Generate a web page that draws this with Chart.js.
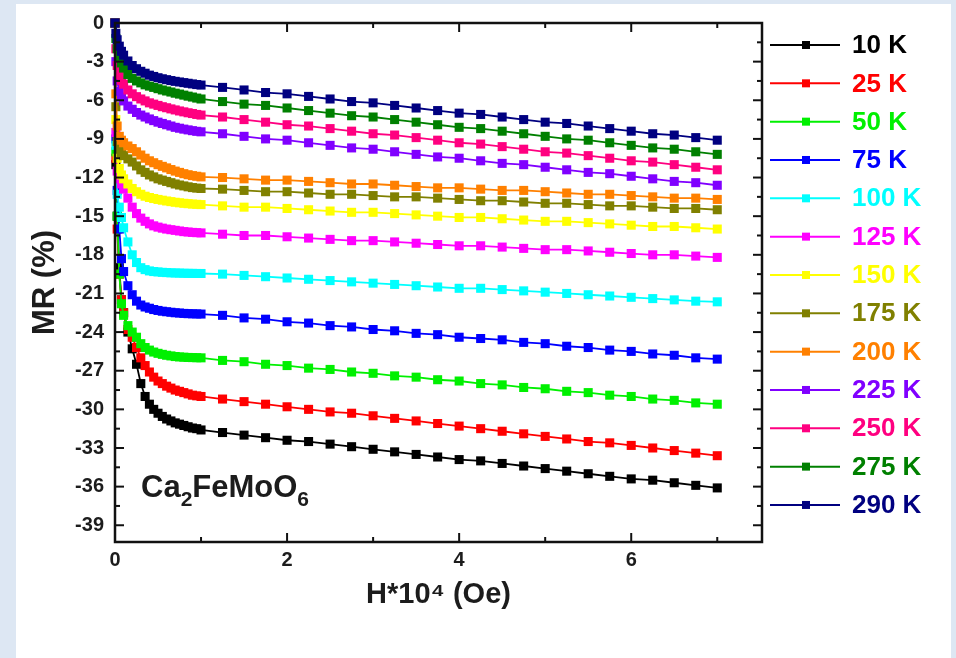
<!DOCTYPE html>
<html>
<head>
<meta charset="utf-8">
<script src="https://cdn.jsdelivr.net/npm/chart.js@4.4.1/dist/chart.umd.min.js"></script>
<style>
  html, body { margin: 0; padding: 0; background: #dde7f3; }
  #wrap { width: 956px; height: 658px; position: relative; }
  canvas { display: block; }
</style>
</head>
<body>
<div id="wrap"><canvas id="c" width="956" height="658"></canvas></div>
<script>
// Magnetic field H (x 10^4 Oe)
const fields = [0, 0.01, 0.025, 0.05, 0.075, 0.1, 0.15, 0.2, 0.25, 0.3, 0.35, 0.4, 0.45, 0.5, 0.55, 0.6, 0.65, 0.7, 0.75, 0.8, 0.85, 0.9, 0.95, 1.0,
  1.25, 1.5, 1.75, 2, 2.25, 2.5, 2.75, 3, 3.25, 3.5, 3.75, 4, 4.25, 4.5, 4.75, 5, 5.25, 5.5, 5.75, 6, 6.25, 6.5, 6.75, 7];

const seriesLabels = ['10 K', '25 K', '50 K', '75 K', '100 K', '125 K', '150 K', '175 K', '200 K', '225 K', '250 K', '275 K', '290 K'];
const seriesColors = ['#000000', '#ff0000', '#00f000', '#0000ff', '#00ffff', '#ff00ff', '#ffff00', '#808000', '#ff8000', '#8000ff', '#ff0080', '#008000', '#000080'];

const mr10 = [0, -11, -15.0, -19.0, -21.5, -22.5, -24.0, -25.3, -26.5, -28.0, -29.0, -29.6, -30.0, -30.3, -30.55, -30.75, -30.9, -31.05, -31.15, -31.25, -31.35, -31.45, -31.5, -31.6,
  -31.8, -32.0, -32.2, -32.4, -32.5, -32.7, -32.9, -33.1, -33.3, -33.5, -33.7, -33.9, -34.0, -34.2, -34.4, -34.6, -34.8, -35.0, -35.2, -35.4, -35.5, -35.7, -35.9, -36.1];
const mr25 = [0, -10.5, -16.0, -19.5, -21.5, -22.5, -23.8, -24.4, -25.2, -26.0, -26.6, -27.1, -27.5, -27.8, -28.0, -28.2, -28.35, -28.5, -28.6, -28.7, -28.8, -28.9, -28.95, -29.0,
  -29.2, -29.4, -29.6, -29.8, -30.0, -30.2, -30.3, -30.5, -30.7, -30.9, -31.1, -31.3, -31.5, -31.7, -31.9, -32.1, -32.3, -32.5, -32.6, -32.8, -33.0, -33.2, -33.4, -33.6];
const mr50 = [0, -10, -15, -19.5, -21.8, -22.7, -23.5, -24.0, -24.4, -24.9, -25.2, -25.4, -25.55, -25.65, -25.73, -25.8, -25.85, -25.9, -25.93, -25.95, -25.97, -25.98, -25.99, -26.0,
  -26.2, -26.3, -26.5, -26.6, -26.8, -26.9, -27.1, -27.2, -27.4, -27.5, -27.7, -27.8, -28.0, -28.1, -28.3, -28.4, -28.6, -28.7, -28.9, -29.0, -29.2, -29.3, -29.5, -29.6];
const mr75 = [0, -9.0, -13.0, -16.0, -18.3, -19.3, -20.4, -21.1, -21.6, -21.9, -22.05, -22.15, -22.25, -22.32, -22.38, -22.42, -22.46, -22.5, -22.52, -22.55, -22.57, -22.58, -22.59, -22.6,
  -22.7, -22.9, -23.0, -23.2, -23.3, -23.5, -23.6, -23.8, -23.9, -24.1, -24.2, -24.4, -24.5, -24.6, -24.8, -24.9, -25.1, -25.2, -25.4, -25.5, -25.7, -25.8, -26.0, -26.1];
const mr100 = [0, -9.5, -13.3, -14.3, -15.1, -15.9, -17.0, -18.0, -18.6, -19.0, -19.15, -19.25, -19.3, -19.33, -19.36, -19.38, -19.4, -19.41, -19.42, -19.43, -19.44, -19.44, -19.45, -19.45,
  -19.5, -19.6, -19.7, -19.8, -19.9, -20.0, -20.1, -20.2, -20.3, -20.4, -20.5, -20.6, -20.6, -20.7, -20.8, -20.9, -21.0, -21.1, -21.2, -21.3, -21.4, -21.5, -21.6, -21.65];
const mr125 = [0, -8.5, -11.5, -12.1, -12.5, -12.9, -13.6, -14.3, -14.8, -15.15, -15.4, -15.6, -15.75, -15.85, -15.93, -16.0, -16.05, -16.1, -16.15, -16.2, -16.23, -16.26, -16.28, -16.3,
  -16.4, -16.5, -16.5, -16.6, -16.7, -16.8, -16.9, -16.9, -17.0, -17.1, -17.2, -17.3, -17.3, -17.4, -17.5, -17.6, -17.6, -17.7, -17.8, -17.9, -18.0, -18.0, -18.1, -18.2];
const mr150 = [0, -7.5, -10.5, -11.3, -11.8, -12.1, -12.5, -12.85, -13.1, -13.3, -13.45, -13.55, -13.63, -13.7, -13.76, -13.82, -13.87, -13.92, -13.96, -14.0, -14.03, -14.06, -14.08, -14.1,
  -14.2, -14.3, -14.3, -14.4, -14.5, -14.6, -14.7, -14.7, -14.8, -14.9, -15.0, -15.1, -15.1, -15.2, -15.3, -15.4, -15.4, -15.5, -15.6, -15.7, -15.8, -15.8, -15.9, -16.0];
const mr175 = [0, -6.5, -9.2, -9.8, -10.1, -10.3, -10.55, -10.8, -11.1, -11.4, -11.6, -11.8, -11.95, -12.1, -12.2, -12.3, -12.4, -12.5, -12.58, -12.65, -12.72, -12.78, -12.82, -12.85,
  -12.9, -13.0, -13.1, -13.1, -13.2, -13.3, -13.3, -13.4, -13.5, -13.5, -13.6, -13.7, -13.8, -13.8, -13.9, -14.0, -14.0, -14.1, -14.2, -14.2, -14.3, -14.4, -14.4, -14.5];
const mr200 = [0, -5.5, -8.0, -8.8, -9.1, -9.3, -9.55, -9.75, -10.0, -10.25, -10.5, -10.7, -10.85, -11.0, -11.13, -11.25, -11.38, -11.5, -11.6, -11.7, -11.78, -11.85, -11.9, -11.95,
  -12.0, -12.1, -12.2, -12.2, -12.3, -12.4, -12.5, -12.5, -12.6, -12.7, -12.8, -12.8, -12.9, -13.0, -13.0, -13.1, -13.2, -13.3, -13.3, -13.4, -13.5, -13.6, -13.6, -13.7];
const mr225 = [0, -3.0, -4.5, -5.3, -5.75, -6.05, -6.45, -6.7, -6.95, -7.15, -7.3, -7.45, -7.58, -7.7, -7.8, -7.9, -8.0, -8.1, -8.17, -8.24, -8.3, -8.36, -8.41, -8.45,
  -8.6, -8.8, -9.0, -9.1, -9.3, -9.5, -9.7, -9.8, -10.0, -10.2, -10.4, -10.5, -10.7, -10.9, -11.0, -11.2, -11.4, -11.6, -11.7, -11.9, -12.1, -12.3, -12.4, -12.6];
const mr250 = [0, -2.0, -3.3, -4.0, -4.45, -4.75, -5.2, -5.5, -5.72, -5.9, -6.05, -6.2, -6.3, -6.4, -6.5, -6.58, -6.67, -6.75, -6.83, -6.9, -6.97, -7.03, -7.1, -7.15,
  -7.3, -7.5, -7.7, -7.9, -8.0, -8.2, -8.4, -8.6, -8.7, -8.9, -9.1, -9.3, -9.4, -9.6, -9.8, -10.0, -10.1, -10.3, -10.5, -10.7, -10.8, -11.0, -11.2, -11.4];
const mr275 = [0, -1.2, -2.0, -2.6, -3.1, -3.5, -4.0, -4.3, -4.5, -4.65, -4.8, -4.9, -5.0, -5.1, -5.2, -5.28, -5.36, -5.45, -5.52, -5.6, -5.68, -5.75, -5.83, -5.9,
  -6.1, -6.3, -6.4, -6.6, -6.8, -7.0, -7.2, -7.3, -7.5, -7.7, -7.9, -8.1, -8.2, -8.4, -8.6, -8.8, -9.0, -9.1, -9.3, -9.5, -9.7, -9.8, -10.0, -10.2];
const mr290 = [0, -0.8, -1.3, -1.8, -2.2, -2.5, -2.95, -3.3, -3.55, -3.75, -3.9, -4.05, -4.15, -4.25, -4.33, -4.4, -4.47, -4.53, -4.58, -4.63, -4.68, -4.73, -4.78, -4.82,
  -5.0, -5.2, -5.4, -5.5, -5.7, -5.9, -6.1, -6.2, -6.4, -6.6, -6.8, -7.0, -7.1, -7.3, -7.5, -7.7, -7.8, -8.0, -8.2, -8.4, -8.6, -8.7, -8.9, -9.1];

const seriesValues = [mr10, mr25, mr50, mr75, mr100, mr125, mr150, mr175, mr200, mr225, mr250, mr275, mr290];

const xTicks = [0, 2, 4, 6];
const xMinorTicks = [1, 3, 5, 7];
const yTicks = [0, -3, -6, -9, -12, -15, -18, -21, -24, -27, -30, -33, -36, -39];
const yMinorTicks = [-1.5, -4.5, -7.5, -10.5, -13.5, -16.5, -19.5, -22.5, -25.5, -28.5, -31.5, -34.5, -37.5];

const FONT = '"Liberation Sans", Arial, "DejaVu Sans", sans-serif';
const TEXT = '#1c1c1c';

const datasets = seriesLabels.map((lab, i) => ({
  label: lab,
  data: fields.map((h, k) => ({ x: h, y: seriesValues[i][k] })),
  borderColor: seriesColors[i],
  backgroundColor: seriesColors[i],
  borderWidth: 1.8,
  showLine: true,
  pointStyle: 'rect',
  pointRadius: 6.4,
  pointBorderWidth: 0,
  pointHoverRadius: 6.4,
  clip: false,
  order: 12 - i
}));

const decorPlugin = {
  id: 'decor',
  beforeDraw(chart) {
    const ctx = chart.ctx;
    ctx.save();
    ctx.fillStyle = '#dde7f3';
    ctx.fillRect(0, 0, chart.width, chart.height);
    ctx.fillStyle = '#ffffff';
    ctx.fillRect(16, 4, 935, 654);
    ctx.restore();
  },
  afterDraw(chart) {
    const ctx = chart.ctx;
    const a = chart.chartArea;
    const xs = chart.scales.x, ys = chart.scales.y;
    ctx.save();
    ctx.strokeStyle = '#111';
    ctx.lineWidth = 2.5;
    ctx.strokeRect(a.left, a.top, a.right - a.left, a.bottom - a.top);
    ctx.lineWidth = 2;
    const tick = (x1, y1, x2, y2) => { ctx.beginPath(); ctx.moveTo(x1, y1); ctx.lineTo(x2, y2); ctx.stroke(); };
    xTicks.forEach(v => { const p = xs.getPixelForValue(v); tick(p, a.bottom, p, a.bottom - 9); tick(p, a.top, p, a.top + 9); });
    xMinorTicks.forEach(v => { const p = xs.getPixelForValue(v); tick(p, a.bottom, p, a.bottom - 5); tick(p, a.top, p, a.top + 5); });
    yTicks.forEach(v => { const p = ys.getPixelForValue(v); tick(a.left, p, a.left + 9, p); tick(a.right, p, a.right - 9, p); });
    yMinorTicks.forEach(v => { const p = ys.getPixelForValue(v); tick(a.left, p, a.left + 5, p); tick(a.right, p, a.right - 5, p); });

    // legend
    chart.data.datasets.forEach((ds, i) => {
      const y = 45 + i * 38.33;
      ctx.strokeStyle = ds.borderColor;
      ctx.lineWidth = 2;
      tick(770, y, 840, y);
      ctx.fillStyle = ds.borderColor;
      ctx.fillRect(802, y - 4, 8, 8);
      ctx.font = 'bold 26px ' + FONT;
      ctx.textBaseline = 'middle';
      ctx.textAlign = 'left';
      ctx.fillText(ds.label, 852, y + 1);
    });

    // compound label
    ctx.fillStyle = TEXT;
    ctx.textBaseline = 'alphabetic';
    ctx.textAlign = 'left';
    let x = 141, base = 497;
    const big = 'bold 31px ' + FONT, small = 'bold 21px ' + FONT;
    const parts = [['Ca', big, 0], ['2', small, 9], ['FeMoO', big, 0], ['6', small, 9]];
    parts.forEach(([t, f, dy]) => { ctx.font = f; ctx.fillText(t, x, base + dy); x += ctx.measureText(t).width; });
    ctx.restore();
  }
};

new Chart(document.getElementById('c'), {
  type: 'scatter',
  data: { datasets },
  options: {
    responsive: false,
    devicePixelRatio: 1,
    animation: false,
    layout: { padding: { left: 0, right: 194, top: 22.5, bottom: 0 } },
    plugins: { legend: { display: false }, tooltip: { enabled: false } },
    scales: {
      x: {
        type: 'linear',
        min: 0, max: 7.52,
        afterBuildTicks: s => { s.ticks = xTicks.map(v => ({ value: v })); },
        afterFit: s => { s.height = 116; },
        grid: { display: false, drawTicks: false },
        border: { display: false },
        ticks: { color: TEXT, padding: 6, font: { family: FONT, size: 20, weight: 'bold' }, maxRotation: 0 },
        title: { display: true, text: 'H*10\u2074 (Oe)', color: TEXT, padding: { top: 0, bottom: 46 }, font: { family: FONT, size: 29, weight: 'bold', lineHeight: 1.2 } }
      },
      y: {
        type: 'linear',
        min: -40.3, max: 0,
        afterBuildTicks: s => { s.ticks = yTicks.map(v => ({ value: v })); },
        afterFit: s => { s.width = 115; },
        grid: { display: false, drawTicks: false },
        border: { display: false },
        ticks: { color: TEXT, padding: 11, font: { family: FONT, size: 20, weight: 'bold' } },
        title: { display: true, text: 'MR (%)', color: TEXT, padding: { top: 27, bottom: 0 }, font: { family: FONT, size: 31, weight: 'bold', lineHeight: 1.2 } }
      }
    }
  },
  plugins: [decorPlugin]
});
</script>
</body>
</html>
